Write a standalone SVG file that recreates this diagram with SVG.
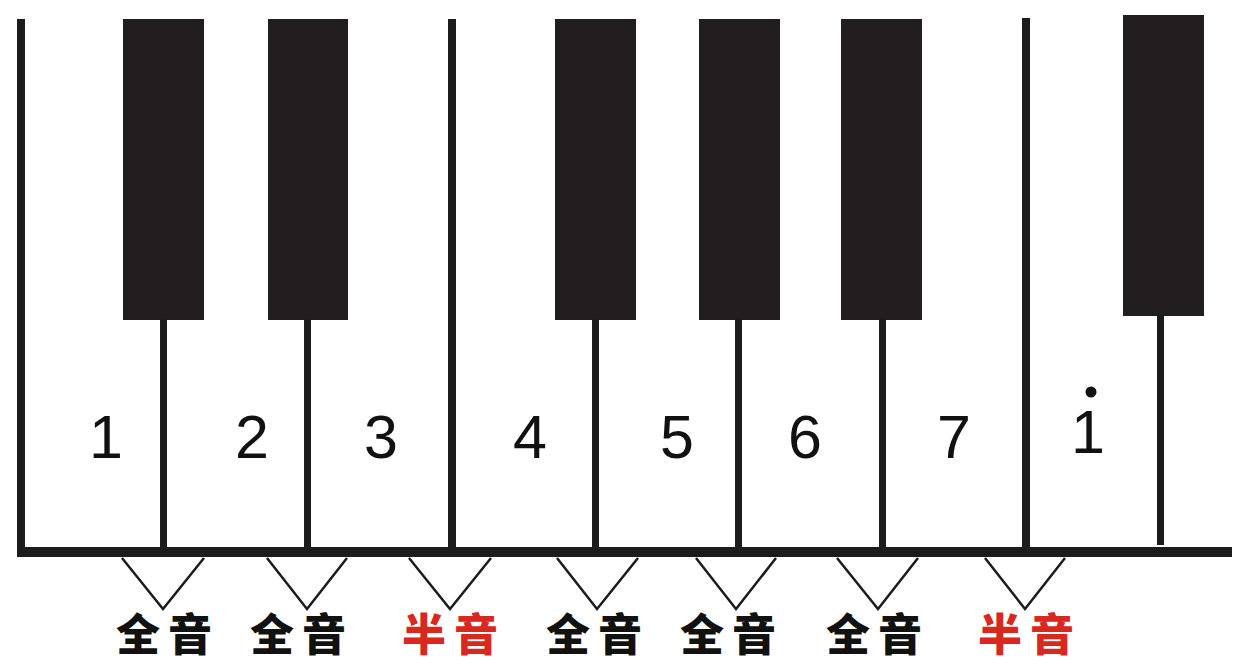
<svg xmlns="http://www.w3.org/2000/svg" width="1258" height="668" viewBox="0 0 1258 668">
<style>
.key{fill:#221e1f}
.ln{fill:#1c1c1c}
.v{fill:none;stroke:#1c1c1c;stroke-width:2.5;stroke-linejoin:miter}
.num{font-family:"Liberation Sans",Arial,sans-serif;font-size:61px;fill:#111;text-anchor:middle}
.lab{font-family:"Noto Sans CJK SC","Noto Sans CJK JP",sans-serif;font-weight:900;font-size:44px;text-anchor:middle;letter-spacing:8px}
.w{fill:#111}
.h{fill:#d8281f}
</style>
<rect width="1258" height="668" fill="#ffffff"/>
<g id="frame">
<rect class="ln" x="17" y="19" width="8" height="536"/>
<rect class="ln" x="448" y="19" width="8" height="536"/>
<rect class="ln" x="1022" y="18" width="8" height="537"/>
<rect class="ln" x="17" y="547" width="1215" height="10"/>
</g>
<g id="black-keys">
<g id="bk1"><rect class="key" x="123" y="19" width="81" height="301"/><rect class="ln" x="160" y="318" width="7" height="232"/></g>
<g id="bk2"><rect class="key" x="268" y="19" width="80" height="301"/><rect class="ln" x="304" y="318" width="7" height="232"/></g>
<g id="bk3"><rect class="key" x="555" y="19" width="81" height="301"/><rect class="ln" x="592" y="318" width="7" height="232"/></g>
<g id="bk4"><rect class="key" x="699" y="19" width="81" height="301"/><rect class="ln" x="735" y="318" width="7" height="232"/></g>
<g id="bk5"><rect class="key" x="841" y="19" width="81" height="301"/><rect class="ln" x="879" y="318" width="7" height="232"/></g>
<g id="bk6"><rect class="key" x="1123" y="15" width="81" height="301"/><rect class="ln" x="1157" y="314" width="7" height="231"/></g>
</g>
<g id="numbers">
<text class="num" x="106" y="458">1</text>
<text class="num" x="252" y="458">2</text>
<text class="num" x="381" y="458">3</text>
<text class="num" x="530" y="458">4</text>
<text class="num" x="677" y="458">5</text>
<text class="num" x="805" y="458">6</text>
<text class="num" x="954" y="458">7</text>
<g id="high-do"><text class="num" x="1088" y="453" font-size="57">1</text><circle cx="1091" cy="392" r="5.5" fill="#111"/></g>
</g>
<g id="connectors">
<polyline class="v" points="122,558 163,609 204,558"/>
<polyline class="v" points="267,558 307,609 347,558"/>
<polyline class="v" points="409,558 450,609 491,558"/>
<polyline class="v" points="557,558 597,609 638,558"/>
<polyline class="v" points="696,558 736,609 776,558"/>
<polyline class="v" points="837,558 878,609 918,558"/>
<polyline class="v" points="985,558 1025,609 1065,558"/>
</g>
<g id="labels">
<text class="lab w" x="168" y="651">全音</text>
<text class="lab w" x="302" y="651">全音</text>
<text class="lab h" x="454" y="651">半音</text>
<text class="lab w" x="598" y="651">全音</text>
<text class="lab w" x="732" y="651">全音</text>
<text class="lab w" x="878" y="651">全音</text>
<text class="lab h" x="1030" y="651">半音</text>
</g>
</svg>
